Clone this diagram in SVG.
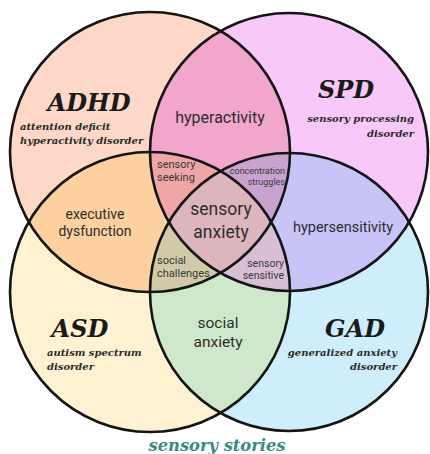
<svg xmlns="http://www.w3.org/2000/svg" xmlns:xlink="http://www.w3.org/1999/xlink" width="430" height="454" viewBox="0 0 430 454">
<style>
.ttl{font-family:"DejaVu Serif",serif;font-weight:bold;font-style:italic;fill:#1a1a1a;font-size:24px}
.sub{font-family:"DejaVu Serif",serif;font-weight:bold;font-style:italic;fill:#2a2a2a;font-size:10px}
.lbl{font-family:Roboto,"Liberation Sans",sans-serif;fill:#2e2e2e;text-anchor:middle}
.sm{font-family:Roboto,"Liberation Sans",sans-serif;fill:#3a3a3a}
.ol{fill:none;stroke:#151515;stroke-width:2.6}
</style>
<defs>
<clipPath id="clA"><circle cx="150" cy="152" r="140"/></clipPath>
<clipPath id="clB"><circle cx="289" cy="152" r="139"/></clipPath>
<clipPath id="clC"><circle cx="150" cy="292" r="140"/></clipPath>
<clipPath id="clD"><circle cx="289" cy="292" r="139"/></clipPath>
</defs>
<rect width="430" height="454" fill="#ffffff"/>
<g id="fills">
<circle cx="150" cy="152" r="140" fill="#fdd8c8"/>
<circle cx="289" cy="152" r="139" fill="#f8c9f8"/>
<circle cx="150" cy="292" r="140" fill="#fff2d2"/>
<circle cx="289" cy="292" r="139" fill="#cdeefa"/>
<circle cx="289" cy="152" r="139" fill="#f2a6cb" clip-path="url(#clA)"/>
<circle cx="150" cy="292" r="140" fill="#fdd0a0" clip-path="url(#clA)"/>
<circle cx="289" cy="292" r="139" fill="#c8c4f8" clip-path="url(#clB)"/>
<circle cx="289" cy="292" r="139" fill="#cfe8cc" clip-path="url(#clC)"/>
<g clip-path="url(#clA)"><circle cx="150" cy="292" r="140" fill="#f0a6a6" clip-path="url(#clB)"/></g>
<g clip-path="url(#clA)"><circle cx="289" cy="292" r="139" fill="#c9a3d0" clip-path="url(#clB)"/></g>
<g clip-path="url(#clA)"><circle cx="289" cy="292" r="139" fill="#d0caa9" clip-path="url(#clC)"/></g>
<g clip-path="url(#clB)"><circle cx="289" cy="292" r="139" fill="#d8bfd6" clip-path="url(#clC)"/></g>
<g clip-path="url(#clA)"><g clip-path="url(#clB)"><circle cx="289" cy="292" r="139" fill="#dcb5bd" clip-path="url(#clC)"/></g></g>
</g>
<g id="outlines">
<circle class="ol" cx="150" cy="152" r="140"/>
<circle class="ol" cx="289" cy="152" r="139"/>
<circle class="ol" cx="150" cy="292" r="140"/>
<circle class="ol" cx="289" cy="292" r="139"/>
</g>
<g id="adhd">
<text class="ttl" x="89" y="111" text-anchor="middle">ADHD</text>
<text class="sub" x="20" y="130">attention deficit</text>
<text class="sub" x="20" y="144">hyperactivity disorder</text>
</g>
<g id="spd">
<text class="ttl" x="346" y="98" text-anchor="middle">SPD</text>
<text class="sub" x="414" y="122" text-anchor="end">sensory processing</text>
<text class="sub" x="414" y="137" text-anchor="end">disorder</text>
</g>
<g id="asd">
<text class="ttl" x="80" y="337" text-anchor="middle">ASD</text>
<text class="sub" x="47" y="356">autism spectrum</text>
<text class="sub" x="47" y="370">disorder</text>
</g>
<g id="gad">
<text class="ttl" x="355" y="337" text-anchor="middle">GAD</text>
<text class="sub" x="397" y="356" text-anchor="end">generalized anxiety</text>
<text class="sub" x="397" y="370" text-anchor="end">disorder</text>
</g>
<g id="hyperactivity"><text class="lbl" x="220" y="123" font-size="16">hyperactivity</text></g>
<g id="executive-dysfunction">
<text class="lbl" x="95" y="219" font-size="14">executive</text>
<text class="lbl" x="95" y="236" font-size="14">dysfunction</text>
</g>
<g id="hypersensitivity"><text class="lbl" x="343" y="232" font-size="14.5">hypersensitivity</text></g>
<g id="social-anxiety">
<text class="lbl" x="218" y="328" font-size="15.5">social</text>
<text class="lbl" x="218" y="347" font-size="15.5">anxiety</text>
</g>
<g id="sensory-anxiety">
<text class="lbl" x="221" y="215" font-size="17.5">sensory</text>
<text class="lbl" x="221" y="238" font-size="17.5">anxiety</text>
</g>
<g id="sensory-seeking">
<text class="sm" x="157" y="168" font-size="11">sensory</text>
<text class="sm" x="157" y="181" font-size="11">seeking</text>
</g>
<g id="concentration-struggles">
<text class="sm" x="285" y="174" font-size="9" text-anchor="end">concentration</text>
<text class="sm" x="285" y="185" font-size="9" text-anchor="end">struggles</text>
</g>
<g id="social-challenges">
<text class="sm" x="157" y="264" font-size="11">social</text>
<text class="sm" x="157" y="277" font-size="11">challenges</text>
</g>
<g id="sensory-sensitive">
<text class="sm" x="284" y="267" font-size="10.5" text-anchor="end">sensory</text>
<text class="sm" x="284" y="279" font-size="10.5" text-anchor="end">sensitive</text>
</g>
<g id="footer">
<text x="217" y="451" text-anchor="middle" font-family="'DejaVu Serif',serif" font-weight="bold" font-style="italic" font-size="16" fill="#3a8a88" textLength="137" lengthAdjust="spacingAndGlyphs">sensory stories</text>
</g>
</svg>
